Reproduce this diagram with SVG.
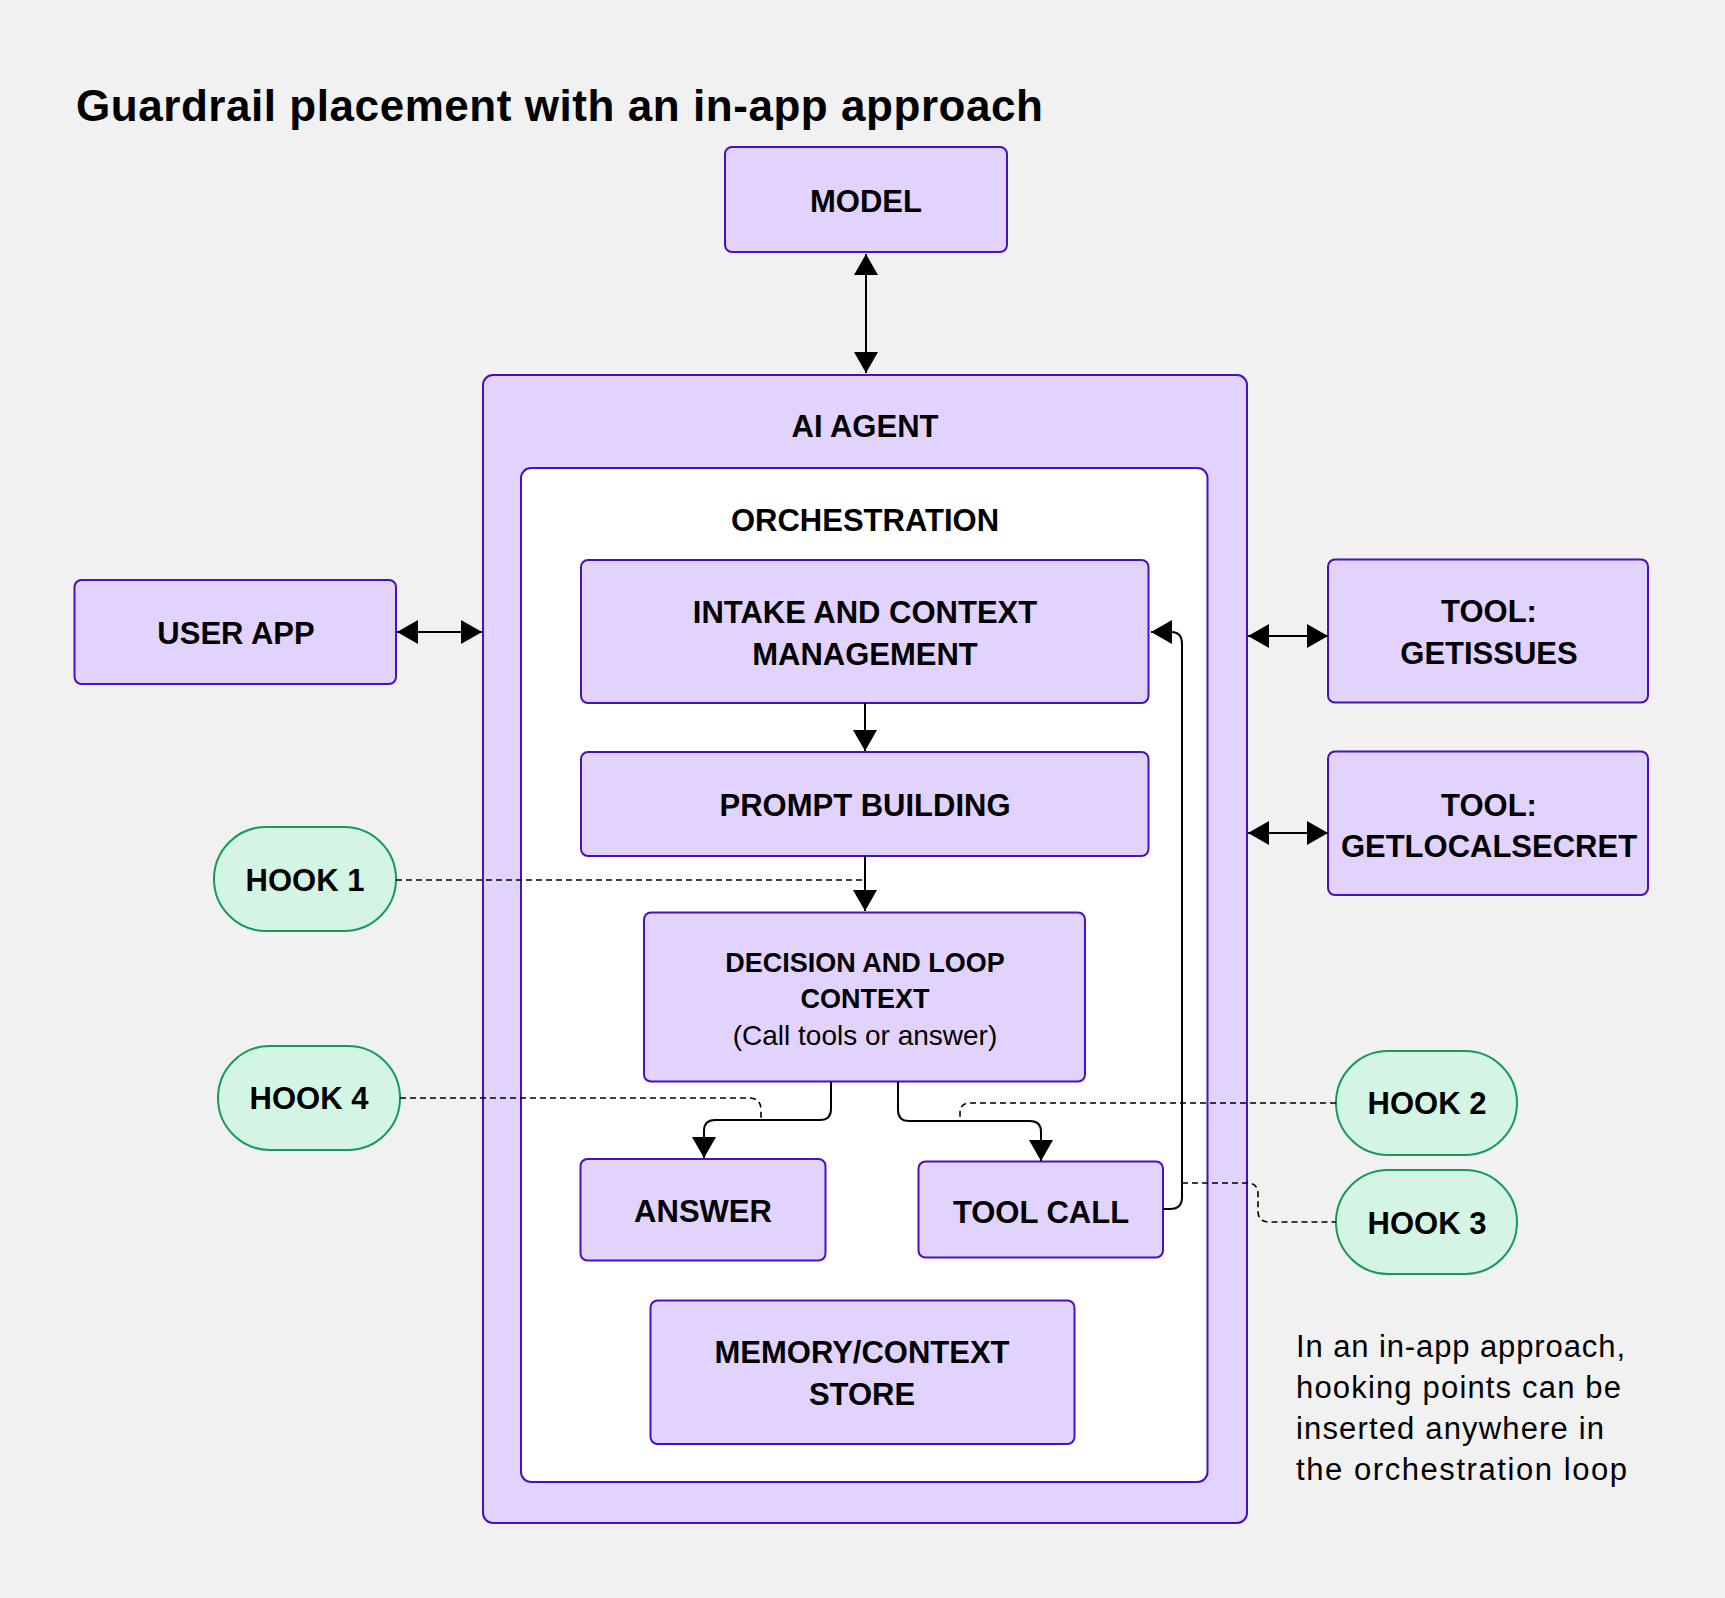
<svg xmlns="http://www.w3.org/2000/svg" width="1725" height="1598" viewBox="0 0 1725 1598">
<style>
.box{fill:#E2D3FE;stroke:#4A10BE;stroke-width:2}
.inner{fill:#FFFFFF;stroke:#4A10BE;stroke-width:2}
.hook{fill:#D4F5E3;stroke:#169A5C;stroke-width:2}
.lbl{font-family:"Liberation Sans",Arial,sans-serif;font-weight:bold;font-size:31px;fill:#000;text-anchor:middle}
.sm{font-size:27px}
.reg{font-family:"Liberation Sans",Arial,sans-serif;font-weight:normal;fill:#000}
.con{fill:none;stroke:#000;stroke-width:2}
.dash{fill:none;stroke:#000;stroke-width:1.6;stroke-dasharray:6 4}
</style>
<defs>
<marker id="arr" markerUnits="userSpaceOnUse" markerWidth="21" markerHeight="24" refX="21" refY="12" orient="auto-start-reverse" viewBox="0 0 21 24">
<path d="M0,0 L21,12 L0,24 z" fill="#000"/>
</marker>
</defs>
<rect width="1725" height="1598" fill="#F1F1F1"/>
<text x="76" y="121" font-family="'Liberation Sans',Arial,sans-serif" font-weight="bold" font-size="44" textLength="967" fill="#000">Guardrail placement with an in-app approach</text>

<g id="agent">
<rect class="box" x="483" y="375" width="764" height="1148" rx="10"/>
<text class="lbl" x="865" y="437">AI AGENT</text>
</g>
<g id="orchestration">
<rect class="inner" x="521" y="468" width="686.5" height="1014" rx="10"/>
<text class="lbl" x="865" y="531">ORCHESTRATION</text>
</g>
<g id="model">
<rect class="box" x="725" y="147" width="282" height="105" rx="7"/>
<text class="lbl" x="866" y="212">MODEL</text>
</g>
<g id="intake">
<rect class="box" x="581" y="560" width="567.5" height="143" rx="7"/>
<text class="lbl" x="865" y="623">INTAKE AND CONTEXT</text>
<text class="lbl" x="865" y="665">MANAGEMENT</text>
</g>
<g id="prompt">
<rect class="box" x="581" y="752" width="567.5" height="104" rx="7"/>
<text class="lbl" x="865" y="816">PROMPT BUILDING</text>
</g>
<g id="decision">
<rect class="box" x="644" y="912.5" width="441" height="169" rx="7"/>
<text class="lbl sm" x="865" y="972">DECISION AND LOOP</text>
<text class="lbl sm" x="865" y="1008">CONTEXT</text>
<text class="reg" x="865" y="1045" font-size="28" text-anchor="middle">(Call tools or answer)</text>
</g>
<g id="answer">
<rect class="box" x="580.5" y="1159" width="245" height="101.5" rx="7"/>
<text class="lbl" x="703" y="1222">ANSWER</text>
</g>
<g id="toolcall">
<rect class="box" x="918.5" y="1161.5" width="244.5" height="96" rx="7"/>
<text class="lbl" x="1041" y="1223">TOOL CALL</text>
</g>
<g id="memory">
<rect class="box" x="650.5" y="1300.5" width="424" height="143.5" rx="7"/>
<text class="lbl" x="862" y="1363">MEMORY/CONTEXT</text>
<text class="lbl" x="862" y="1405">STORE</text>
</g>
<g id="userapp">
<rect class="box" x="74.5" y="580" width="321.5" height="104" rx="7"/>
<text class="lbl" x="236" y="644">USER APP</text>
</g>
<g id="getissues">
<rect class="box" x="1328" y="559.5" width="320" height="143" rx="7"/>
<text class="lbl" x="1489" y="622">TOOL:</text>
<text class="lbl" x="1489" y="664">GETISSUES</text>
</g>
<g id="getlocalsecret">
<rect class="box" x="1328" y="751.5" width="320" height="143.5" rx="7"/>
<text class="lbl" x="1489" y="816">TOOL:</text>
<text class="lbl" x="1489" y="857">GETLOCALSECRET</text>
</g>
<g id="hook1">
<rect class="hook" x="214" y="827" width="182" height="104" rx="52"/>
<text class="lbl" x="305" y="891">HOOK 1</text>
</g>
<g id="hook4">
<rect class="hook" x="218" y="1046" width="182" height="104" rx="52"/>
<text class="lbl" x="309" y="1109">HOOK 4</text>
</g>
<g id="hook2">
<rect class="hook" x="1336" y="1051" width="181" height="104" rx="52"/>
<text class="lbl" x="1427" y="1114">HOOK 2</text>
</g>
<g id="hook3">
<rect class="hook" x="1336" y="1170" width="181" height="104" rx="52"/>
<text class="lbl" x="1427" y="1234">HOOK 3</text>
</g>
<g id="note" class="reg" font-size="31">
<text x="1296" y="1357" textLength="329">In an in-app approach,</text>
<text x="1296" y="1398" textLength="325">hooking points can be</text>
<text x="1296" y="1439" textLength="308">inserted anywhere in</text>
<text x="1296" y="1480" textLength="331">the orchestration loop</text>
</g>

<g id="connectors">
<line class="con" x1="866" y1="254" x2="866" y2="373" marker-start="url(#arr)" marker-end="url(#arr)"/>
<line class="con" x1="397" y1="632" x2="482" y2="632" marker-start="url(#arr)" marker-end="url(#arr)"/>
<line class="con" x1="1248" y1="636" x2="1328" y2="636" marker-start="url(#arr)" marker-end="url(#arr)"/>
<line class="con" x1="1248" y1="833" x2="1328" y2="833" marker-start="url(#arr)" marker-end="url(#arr)"/>
<line class="con" x1="865" y1="703" x2="865" y2="751" marker-end="url(#arr)"/>
<line class="con" x1="865" y1="856" x2="865" y2="911" marker-end="url(#arr)"/>
<path class="con" d="M831,1082 V1109 Q831,1120 820,1120 H715 Q704,1120 704,1131 V1158" marker-end="url(#arr)"/>
<path class="con" d="M898,1082 V1110 Q898,1121 909,1121 H1030 Q1041,1121 1041,1132 V1161" marker-end="url(#arr)"/>
<path class="con" d="M1163,1209 H1170 Q1182,1209 1182,1197 V644 Q1182,632 1171,632 H1151" marker-end="url(#arr)"/>
<path class="dash" d="M396,880 H865"/>
<path class="dash" d="M400,1098 H749 Q761,1098 761,1110 V1120"/>
<path class="dash" d="M1336,1103 H970 Q960,1103 960,1113 V1121"/>
<path class="dash" d="M1182,1183 H1247 Q1258,1183 1258,1194 V1211 Q1258,1222 1269,1222 H1336"/>
</g>
</svg>
